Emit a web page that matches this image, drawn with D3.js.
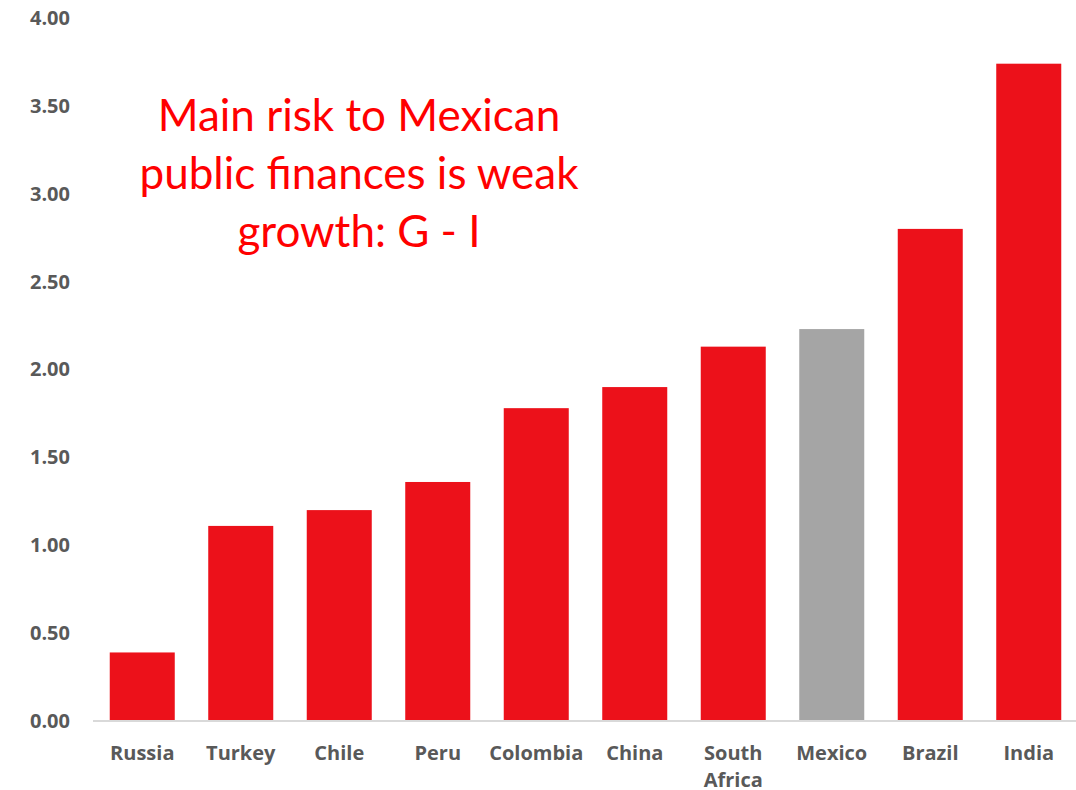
<!DOCTYPE html>
<html>
<head>
<meta charset="utf-8">
<script src="https://cdn.jsdelivr.net/npm/d3@7"></script>
<style>
  body { margin: 0; background: #fff; }
  text { font-family: "Open Sans", Lato, sans-serif; }
</style>
</head>
<body>
<svg id="chart" width="1076" height="790"></svg>
<script>
const countries = ["Russia", "Turkey", "Chile", "Peru", "Colombia", "China", "South Africa", "Mexico", "Brazil", "India"];
const values = [0.39, 1.11, 1.20, 1.36, 1.78, 1.90, 2.13, 2.23, 2.80, 3.74];
const yTicks = [0, 0.5, 1, 1.5, 2, 2.5, 3, 3.5, 4];
const highlight = "Mexico";
const titleLines = ["Main risk to Mexican", "public finances is weak", "growth: G - I"];

const svg = d3.select("svg#chart");
const margins = { top: 18, right: -2, bottom: 69, left: 93 };
const width = +svg.attr("width");
const height = +svg.attr("height");
const chartWidth = width - margins.left - margins.right;
const chartHeight = height - margins.top - margins.bottom;

const chart = svg.append("g").attr("transform", `translate(${margins.left},${margins.top})`);

const xScale = d3.scaleBand().domain(countries).range([0, chartWidth]).paddingInner(0.34).paddingOuter(0.17);
const yScale = d3.scaleLinear().domain([0, 4]).range([chartHeight, 0]);

// y axis labels only, no line
const leftAxis = d3.axisLeft(yScale).tickValues(yTicks).tickFormat(d3.format(".2f")).tickSize(0).tickPadding(23);
const yAxis = chart.append("g").call(leftAxis);
yAxis.select(".domain").remove();
yAxis.selectAll("text")
  .attr("fill", "#595959")
  .style("font-family", "'Open Sans', sans-serif")
  .style("font-size", "20px")
  .style("font-weight", "bold");

chart.selectAll("rect.bar")
  .data(countries.map((c, i) => ({ country: c, value: values[i] })))
  .enter()
  .append("rect")
  .attr("class", "bar")
  .attr("x", d => xScale(d.country))
  .attr("y", d => yScale(d.value))
  .attr("width", xScale.bandwidth())
  .attr("height", d => yScale(0) - yScale(d.value))
  .attr("fill", d => d.country === highlight ? "#A5A5A5" : "#EC111A");

// baseline
chart.append("line")
  .attr("x1", 0).attr("x2", chartWidth)
  .attr("y1", yScale(0)).attr("y2", yScale(0))
  .attr("stroke", "#D9D9D9")
  .attr("stroke-width", 2);

// category labels, wrapping the two-word one
const bottomAxis = d3.axisBottom(xScale).tickSize(0).tickPadding(0).tickFormat("");
const xAxis = chart.append("g").attr("transform", `translate(0,${chartHeight})`).call(bottomAxis);
xAxis.select(".domain").remove();
xAxis.selectAll(".tick").each(function(d) {
  const words = d.split(" ");
  const t = d3.select(this).append("text")
    .attr("text-anchor", "middle")
    .attr("fill", "#595959")
    .style("font-size", "20px")
    .style("font-weight", "bold");
  words.forEach((w, i) => {
    t.append("tspan").attr("x", 0).attr("y", 39 + i * 27).text(w);
  });
});

// annotation
const note = svg.append("text")
  .attr("text-anchor", "middle")
  .attr("fill", "#FF0000")
  .style("font-family", "Lato, sans-serif")
  .style("font-size", "44px");
titleLines.forEach((line, i) => {
  note.append("tspan").attr("x", 359).attr("y", 131 + i * 58).text(line);
});
</script>
</body>
</html>
